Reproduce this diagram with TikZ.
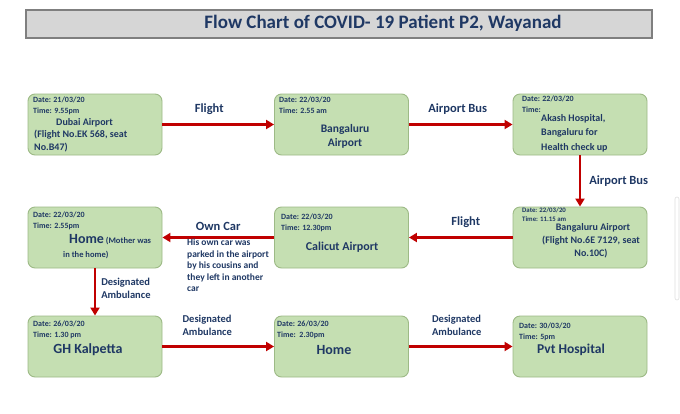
\documentclass[tikz,border=0pt]{standalone}
\usepackage{fontspec}
\setmainfont{Carlito}
\usepackage{tikz}
\usetikzlibrary{arrows.meta,positioning,calc}
\definecolor{boxgreen}{HTML}{C5DFB2}
\definecolor{boxedge}{HTML}{9DBA86}
\definecolor{navytxt}{HTML}{1F3864}
\definecolor{arrowred}{HTML}{C00000}
\definecolor{titlegray}{HTML}{D6D6D6}
\definecolor{titleedge}{HTML}{7F7F7F}

\tikzset{
  stepbox/.style={draw=boxedge,fill=boxgreen,line width=0.9pt,rounded corners=7pt,
    minimum width=134pt,minimum height=61pt,inner sep=0pt},
  datetxt/.style={font=\fontsize{8}{11}\selectfont\bfseries,color=navytxt,
    align=left,anchor=north west,inner sep=0pt},
  placetxt/.style={font=\bfseries,color=navytxt,inner sep=0pt},
  flow/.style={arrowred,line width=2.6pt,-{Triangle[length=8pt,width=9pt]}},
  lbl/.style={font=\fontsize{12.5}{14}\selectfont\bfseries,color=navytxt,inner sep=0pt},
  lblsmall/.style={font=\fontsize{10.5}{13}\selectfont\bfseries,color=navytxt,
    inner sep=0pt,align=left}
}

\begin{document}
\begin{tikzpicture}[x=1pt,y=-1pt]
  \useasboundingbox[fill=white] (0,0) rectangle (680,413);

  % Title bar
  \node[draw=titleedge,fill=titlegray,line width=1.1pt,minimum width=626pt,
    minimum height=28pt,inner sep=0pt] (titlebar) at (339,24) {};
  \node[font=\fontsize{19}{22}\selectfont\bfseries,color=navytxt] (title) at (383,23)
    {Flow Chart of COVID- 19 Patient P2, Wayanad};

  % Boxes, first row
  \node[stepbox] (dubai) at (95,124.5) {};
  \node[stepbox] (blrone) at (341.5,124.5) {};
  \node[stepbox] (akash) at (580,124.5) {};
  % Boxes, second row
  \node[stepbox] (home) at (95,237.5) {};
  \node[stepbox] (calicut) at (341.5,237.5) {};
  \node[stepbox] (blrtwo) at (580,237.5) {};
  % Boxes, third row
  \node[stepbox] (ghk) at (95,346.5) {};
  \node[stepbox] (hometwo) at (341.5,346.5) {};
  \node[stepbox] (pvt) at (580,346.5) {};

  % Dates and times
  \node[datetxt] (dubaidt) at (33,97) {Date: 21/03/20\\Time: 9.55pm};
  \node[datetxt] (blronedt) at (279,97) {Date: 22/03/20\\Time: 2.55 am};
  \node[datetxt] (akashdt) at (522,96) {Date: 22/03/20\\Time:};
  \node[datetxt] (homedt) at (33,212) {Date: 22/03/20\\Time: 2.55pm};
  \node[datetxt] (calicutdt) at (281,213.5) {Date: 22/03/20\\Time: 12.30pm};
  \node[datetxt,font=\fontsize{6.8}{8.5}\selectfont\bfseries] (blrtwodt) at (522,208)
    {Date: 22/03/20\\Time: 11.15 am};
  \node[datetxt] (ghkdt) at (33,321) {Date: 26/03/20\\Time: 1.30 pm};
  \node[datetxt] (hometwodt) at (277,321) {Date: 26/03/20\\Time:\ \ 2.30pm};
  \node[datetxt] (pvtdt) at (519,323) {Date: 30/03/20\\Time: 5pm};

  % Place names
  \node[placetxt,font=\fontsize{10}{12.5}\selectfont\bfseries,align=left,anchor=west]
    (dubaitxt) at (34,135) {\hspace*{22pt}Dubai Airport\\(Flight No.EK 568, seat\\No.B47)};
  \node[placetxt,font=\fontsize{11.5}{14}\selectfont\bfseries,align=center]
    (blronetxt) at (345,136) {Bangaluru\\Airport};
  \node[placetxt,font=\fontsize{10}{14.5}\selectfont\bfseries,align=left,anchor=west]
    (akashtxt) at (541,133) {Akash Hospital,\\Bangaluru for\\Health check up};
  \node[placetxt,font=\fontsize{8.5}{14}\selectfont\bfseries,align=left,anchor=west]
    (hometxt) at (63,247) {\hspace*{6pt}{\fontsize{14}{14}\selectfont Home} (Mother was\\in the home)};
  \node[placetxt,font=\fontsize{12}{14}\selectfont\bfseries] (calicuttxt) at (342,247)
    {Calicut Airport};
  \node[placetxt,font=\fontsize{10}{13}\selectfont\bfseries,align=center]
    (blrtwotxt) at (591,240.5) {\hspace*{4pt}Bangaluru Airport\\(Flight No.6E 7129, seat\\No.10C)};
  \node[placetxt,font=\fontsize{14}{16}\selectfont\bfseries] (ghktxt) at (88,350)
    {GH Kalpetta};
  \node[placetxt,font=\fontsize{14}{16}\selectfont\bfseries] (hometwotxt) at (334,350)
    {Home};
  \node[placetxt,font=\fontsize{13.5}{16}\selectfont\bfseries] (pvttxt) at (571,350)
    {Pvt Hospital};

  % Connectors
  \draw[flow] (dubai) -- (blrone)
    node[lbl,midway,above=9pt,xshift=-9pt] (lflight) {Flight};
  \draw[flow] (blrone) -- (akash)
    node[lbl,midway,above=9pt,xshift=-3pt] (lbusone) {Airport Bus};
  \draw[flow] (akash) -- (blrtwo)
    node[lbl,midway,right=8pt] (lbustwo) {Airport Bus};
  \draw[flow] (blrtwo) -- (calicut)
    node[lbl,midway,above=9pt,xshift=5pt] (lflighttwo) {Flight};
  \draw[flow] (calicut) -- (home)
    node[lbl,midway,above=6pt] (lowncar) {Own Car};
  \node[placetxt,font=\fontsize{9.5}{11.5}\selectfont\bfseries,align=left,
    anchor=north west] (carnote) at (187,239)
    {His own car was\\parked in the airport\\by his cousins and\\they left in another\\car};
  \draw[flow] (home) -- (ghk)
    node[lblsmall,midway,right=5pt,yshift=4pt] (lambone) {Designated\\Ambulance};
  \draw[flow] (ghk) -- (hometwo)
    node[lblsmall,midway,above=10pt,xshift=-11pt] (lambtwo) {Designated\\Ambulance};
  \draw[flow] (hometwo) -- (pvt)
    node[lblsmall,midway,above=10pt,xshift=-4pt] (lambthree) {Designated\\Ambulance};

  % Scroll bar at the right edge
  \draw[gray!25,line width=0.6pt,rounded corners=2pt] (675,197) rectangle (679,300);
\end{tikzpicture}
\end{document}
